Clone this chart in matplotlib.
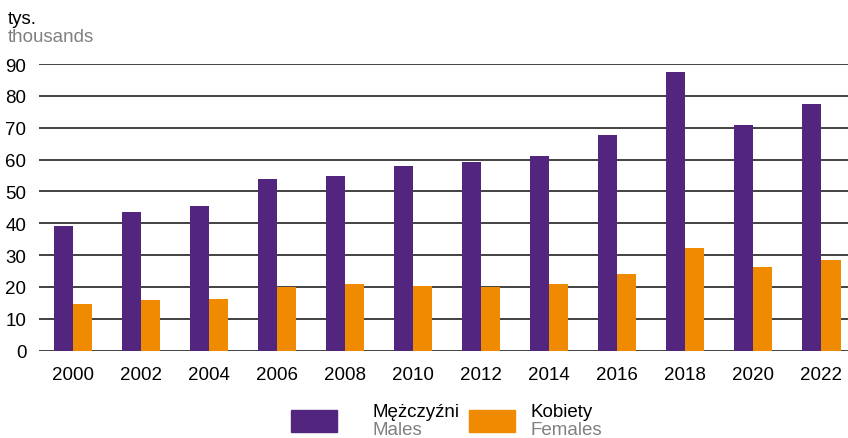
import matplotlib.pyplot as plt
import matplotlib.patches as mpatches
import numpy as np

plt.rcParams["font.family"] = ["Liberation Sans", "DejaVu Sans"]

years = ["2000", "2002", "2004", "2006", "2008", "2010",
         "2012", "2014", "2016", "2018", "2020", "2022"]
males = [39.0, 43.5, 45.4, 53.9, 54.9, 57.9, 59.2, 61.1, 67.7, 87.4, 71.0, 77.4]
females = [14.6, 15.9, 16.2, 19.9, 21.0, 20.4, 20.1, 20.9, 24.1, 32.1, 26.2, 28.6]

purple = "#52267e"
orange = "#f08a00"
grey = "#808080"
fs = 13.5

fig = plt.figure(figsize=(8.48, 4.39), dpi=100)
ax = fig.add_axes((39 / 848, 1 - 351.7 / 439, 1 - 39 / 848, (351.7 - 65) / 439))

x = np.arange(len(years))
w = 0.28
ax.bar(x - w / 2, males, width=w, color=purple, zorder=3)
ax.bar(x + w / 2, females, width=w, color=orange, zorder=3)

ax.set_ylim(0, 90)
ax.set_xlim(-0.495, 11.39)
ax.set_yticks(range(0, 91, 10))
for yv in range(0, 91, 10):
    ax.axhline(yv, color="#222222", lw=1.2, zorder=1)

ax.set_xticks(x)
ax.set_xticklabels(years)
ax.tick_params(axis="both", length=0, labelsize=fs)
ax.tick_params(axis="x", pad=11)
ax.tick_params(axis="y", pad=9)
for s in ax.spines.values():
    s.set_visible(False)

# unit label
fig.text(8 / 848, 1 - 20 / 439, "tys.", fontsize=fs, va="center", ha="left")
fig.text(8 / 848, 1 - 37 / 439, "thousands", fontsize=fs, va="center", ha="left", color=grey)

# legend drawn by hand
for px, col in [(291, purple), (469, orange)]:
    fig.patches.append(mpatches.Rectangle((px / 848, 1 - 433 / 439), 46 / 848, 22 / 439,
                                          transform=fig.transFigure, color=col))
fig.text(372 / 848, 1 - 413 / 439, "Mężczyźni", fontsize=fs, va="center", ha="left")
fig.text(372 / 848, 1 - 431 / 439, "Males", fontsize=fs, va="center", ha="left", color=grey)
fig.text(530 / 848, 1 - 413 / 439, "Kobiety", fontsize=fs, va="center", ha="left")
fig.text(530 / 848, 1 - 431 / 439, "Females", fontsize=fs, va="center", ha="left", color=grey)

fig.savefig("out.png", dpi=100)
